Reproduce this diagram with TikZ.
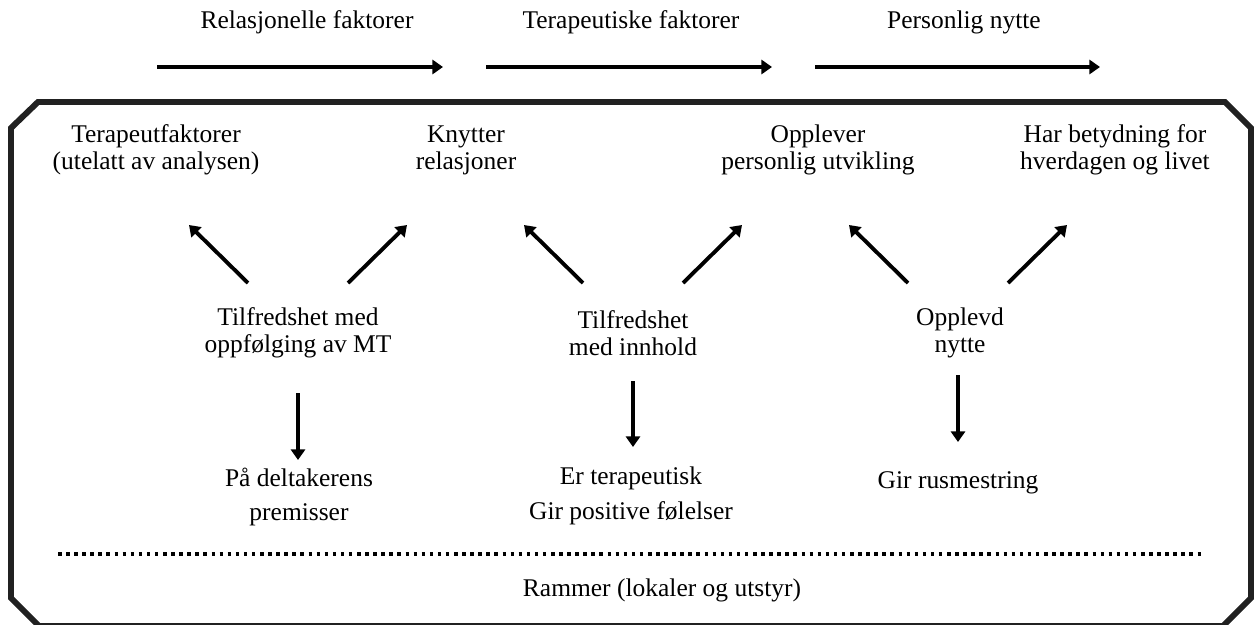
\documentclass[tikz,border=0pt]{standalone}
\usepackage{fontspec}
\setmainfont{Liberation Serif}
\usetikzlibrary{arrows.meta, positioning}

\begin{document}
\begin{tikzpicture}[x=0.02cm, y=-0.02cm, >={Triangle[length=6pt, width=8pt]},
    font=\fontsize{14.5}{15.5}\selectfont,
    txt/.style={align=center, inner sep=0pt},
    arr/.style={->, line width=2.2pt},
    frame/.style={line width=3.4pt, draw=black!87, line join=miter}]
  \useasboundingbox (0,0) rectangle (1255,625);
  % Frame with cut corners
  \draw[frame] (38,102) -- (1225,102) -- (1251,128) -- (1251,598)
    -- (1223,626) -- (39,626) -- (11,598) -- (11,128) -- cycle;
  % Top labels and arrows
  \node[txt] (relf) at (307,22) {Relasjonelle faktorer};
  \node[txt] (terf) at (631,22) {Terapeutiske faktorer};
  \node[txt] (pers) at (964,22) {Personlig nytte};
  \coordinate (r1) at (157,67);  \coordinate (r2) at (443,67);
  \coordinate (t1) at (486,67);  \coordinate (t2) at (772,67);
  \coordinate (p1) at (815,67);  \coordinate (p2) at (1100,67);
  \draw[arr] (r1) -- (r2);
  \draw[arr] (t1) -- (t2);
  \draw[arr] (p1) -- (p2);
  % Top row
  \node[txt] (tfak) at (156,150) {Terapeutfaktorer\\(utelatt av analysen)};
  \node[txt] (knyt) at (466,150) {Knytter\\relasjoner};
  \node[txt] (oppl) at (818,150) {Opplever\\personlig utvikling};
  \node[txt] (hver) at (1115,150) {Har betydning for\\hverdagen og livet};
  % Middle row
  \node[txt] (sat) at (298,333) {Tilfredshet med\\oppfølging av MT};
  \node[txt] (inn) at (633,333) {Tilfredshet\\med innhold};
  \node[txt] (nyt) at (960,333) {Opplevd\\nytte};
  % Bottom row
  \node[txt] (prem) at (299,497) {På deltakerens\\[4pt]premisser};
  \node[txt] (ter) at (631,496) {Er terapeutisk\\[4pt]Gir positive følelser};
  \node[txt] (rus) at (958,483) {Gir rusmestring};
  % Diagonal arrows
  \foreach \n/\cx in {a/298, b/633, c/958} {
    \coordinate (\n l1) at (\cx-50,283);  \coordinate (\n l2) at (\cx-109,225);
    \coordinate (\n r1) at (\cx+50,283);  \coordinate (\n r2) at (\cx+109,225);
    \draw[arr] (\n l1) -- (\n l2);
    \draw[arr] (\n r1) -- (\n r2);
  }
  % Down arrows
  \coordinate (s1) at (298,393);  \coordinate (s2) at (298,460);
  \coordinate (i1) at (633,381);  \coordinate (i2) at (633,447);
  \coordinate (n1) at (958,375);  \coordinate (n2) at (958,442);
  \draw[arr] (s1) -- (s2);
  \draw[arr] (i1) -- (i2);
  \draw[arr] (n1) -- (n2);
  % Dotted separator and frame conditions
  \coordinate (d1) at (58,554);  \coordinate (d2) at (1203,554);
  \draw[line width=2pt, dash pattern=on 2pt off 2.6pt] (d1) -- (d2);
  \node[txt] (ram) at (662,590) {Rammer (lokaler og utstyr)};
\end{tikzpicture}
\end{document}
